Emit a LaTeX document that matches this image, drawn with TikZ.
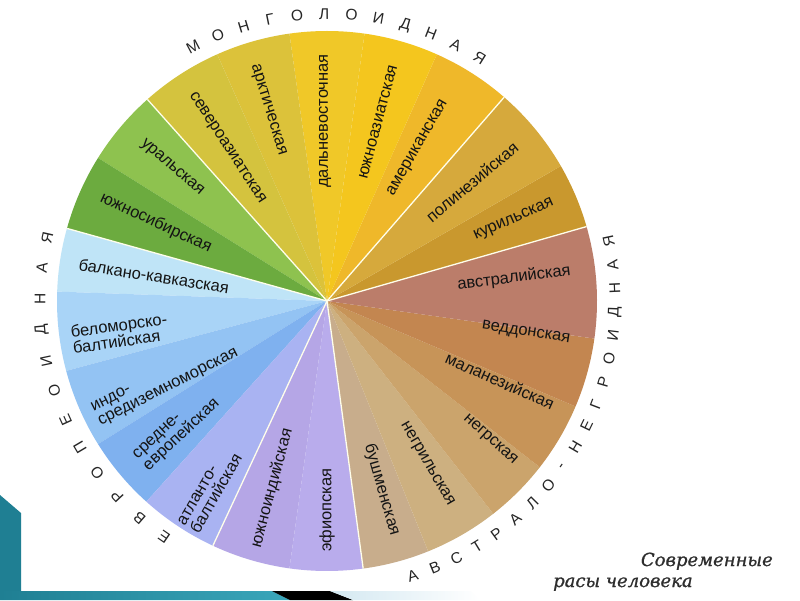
\documentclass[tikz,border=0pt]{standalone}
\usepackage{fontspec}
\setmainfont{Liberation Sans}
\newfontfamily\capfont[ItalicFeatures={FakeBold=1}]{DejaVu Serif}
\definecolor{kur}{HTML}{C9982E}
\definecolor{pol}{HTML}{D6A93C}
\definecolor{ame}{HTML}{EFB82A}
\definecolor{yuz}{HTML}{F4C61E}
\definecolor{dal}{HTML}{F0C828}
\definecolor{ark}{HTML}{DCC23A}
\definecolor{sev}{HTML}{D4C33E}
\definecolor{ura}{HTML}{8EC24F}
\definecolor{ysib}{HTML}{6CAB3F}
\definecolor{bal}{HTML}{BFE4F7}
\definecolor{bel}{HTML}{A9D4F7}
\definecolor{ind}{HTML}{93C3F3}
\definecolor{sre}{HTML}{7FB1EF}
\definecolor{atl}{HTML}{A9B3F2}
\definecolor{yind}{HTML}{B5A6E6}
\definecolor{efi}{HTML}{B9ACEC}
\definecolor{bus}{HTML}{C8AD8C}
\definecolor{ngl}{HTML}{CDB080}
\definecolor{ngr}{HTML}{CBA46C}
\definecolor{mal}{HTML}{C79458}
\definecolor{ved}{HTML}{C38650}
\definecolor{avs}{HTML}{BB7D6A}
\definecolor{teal1}{HTML}{1F7F93}
\definecolor{teal2}{HTML}{3AA6BA}
\definecolor{lblue}{HTML}{D3E8F1}
\newcommand\rsector[3]{\fill[#3] (C) -- ++(#1:270) arc[start angle=#1,end angle=#2,radius=270] -- cycle;}
\newcommand\rsplit[1]{\draw[white!92!yellow, line width=1.3pt] (C) -- ++(#1:270);}
\begin{document}
\begin{tikzpicture}[x=1pt,y=1pt,
  lab/.style={font=\fontsize{16.5}{16}\selectfont, text=black!92, inner sep=0pt, align=left},
  arcl/.style={font=\fontsize{15.5}{15}\selectfont, text=black!85, inner sep=0pt},
  capt/.style={font=\capfont\itshape\fontsize{18}{18}\selectfont, text=black!82, inner sep=0pt}]
\useasboundingbox (0,0) rectangle (800,600);
\fill[white] (0,0) rectangle (800,600);
\coordinate (C) at (327,299);
% sectors
\rsector{16}{30}{kur}
\rsector{30}{49}{pol}
\rsector{49}{66}{ame}
\rsector{66}{82}{yuz}
\rsector{82}{98}{dal}
\rsector{98}{114}{ark}
\rsector{114}{131.7}{sev}
\rsector{131.7}{148}{ura}
\rsector{148}{164.4}{ysib}
\rsector{164.4}{178}{bal}
\rsector{178}{195}{bel}
\rsector{195}{212}{ind}
\rsector{212}{228}{sre}
\rsector{228}{245}{atl}
\rsector{245}{262}{yind}
\rsector{262}{277.7}{efi}
\rsector{277.7}{292}{bus}
\rsector{292}{308}{ngl}
\rsector{308}{322}{ngr}
\rsector{322}{337}{mal}
\rsector{337}{352}{ved}
\rsector{352}{376}{avs}
% boundaries
\rsplit{16}\rsplit{49}\rsplit{131.7}\rsplit{164.4}\rsplit{245}\rsplit{277.7}
% labels
\node[lab, rotate=-57] (sev) at (227,452) {североазиатская};
\node[lab, rotate=-73] (ark) at (268,490) {арктическая};
\node[lab, rotate=90] (dal) at (325,479) {дальневосточная};
\node[lab, rotate=75] (yuz) at (378,478) {южноазиатская};
\node[lab, rotate=60] (ame) at (418,452) {американская};
\node[lab, rotate=40] (pol) at (472,418) {полинезийская};
\node[lab, rotate=24] (kur) at (514,380) {курильская};
\node[lab, rotate=7] (avs) at (514,322) {австралийская};
\node[lab, rotate=-9] (ved) at (526,267) {веддонская};
\node[lab, rotate=-24] (mal) at (500,219) {маланезийская};
\node[lab, rotate=-42] (ngr) at (490,160) {негрская};
\node[lab, rotate=-60] (ngl) at (427,136) {негрильская};
\node[lab, rotate=-74] (bus) at (382,110) {бушменская};
\node[lab, rotate=90] (efi) at (327,90) {эфиопская};
\node[lab, rotate=75] (yind) at (272,112) {южноиндийская};
\node[lab, rotate=60] (atl) at (210,110) {атланто-\\балтийская};
\node[lab, rotate=43] (sre) at (177,170) {средне-\\европейская};
\node[lab, rotate=27] (ind) at (165,219) {индо-\\средиземноморская};
\node[lab, rotate=8] (bel) at (120,267) {беломорско-\\балтийская};
\node[lab, rotate=-9] (bal) at (154,324) {балкано-кавказская};
\node[lab, rotate=-25] (ysib) at (156,377) {южносибирская};
\node[lab, rotate=-41] (ura) at (172,432) {уральская};
% arc texts
\foreach \l [count=\i from 0] in {М,О,Н,Г,О,Л,О,И,Д,Н,А,Я} {
  \pgfmathsetmacro\a{117.8-5.45*\i}
  \node[arcl, rotate=\a-90] (mon\i) at ([shift={(\a:287)}]C) {\l};
}
\foreach \l [count=\i from 0] in {Е,В,Р,О,П,Е,О,И,Д,Н,А,Я} {
  \pgfmathsetmacro\a{235.4-6.2*\i}
  \node[arcl, rotate=\a-90] (evr\i) at ([shift={(\a:287)}]C) {\l};
}
\foreach \l [count=\i from 0] in {А,В,С,Т,Р,А,Л,О,-,Н,Е,Г,Р,О,И,Д,Н,А,Я} {
  \pgfmathsetmacro\a{-72.7+4.7*\i}
  \node[arcl, rotate=\a+90] (avn\i) at ([shift={(\a:288)}]C) {\l};
}
% caption
\node[capt, anchor=base east] (cap1) at (773,34) {Современные};
\node[capt, anchor=base west] (cap2) at (553,13) {расы человека};
% slide decoration
\fill[teal1] (0,105) -- (21,87) -- (21,9) -- (0,9) -- cycle;
\shade[left color=teal1, right color=teal2] (0,0) -- (0,9) -- (272,9) -- (290,0) -- cycle;
\fill[black] (272,9) -- (330,9) -- (353,0) -- (290,0) -- cycle;
\shade[left color=lblue, right color=white] (330,9) -- (470,9) -- (480,0) -- (353,0) -- cycle;
\end{tikzpicture}
\end{document}
